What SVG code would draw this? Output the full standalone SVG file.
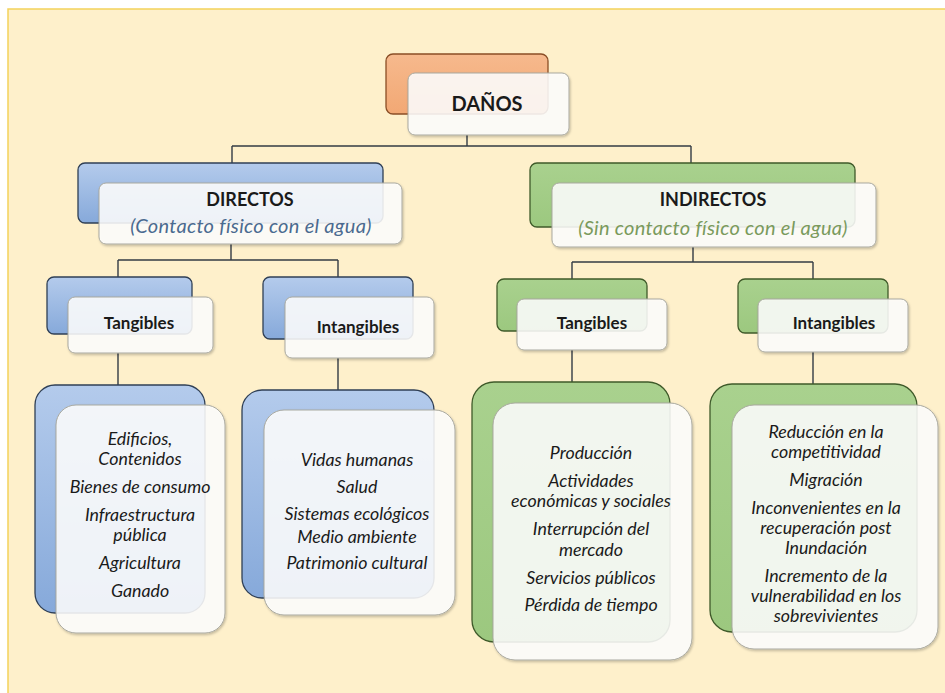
<svg xmlns="http://www.w3.org/2000/svg" width="945" height="693" viewBox="0 0 945 693">
<defs>
<linearGradient id="gBlue" x1="0" y1="0" x2="0" y2="1"><stop offset="0" stop-color="#B4CBEC"/><stop offset="1" stop-color="#86A9DA"/></linearGradient>
<linearGradient id="gGreen" x1="0" y1="0" x2="0" y2="1"><stop offset="0" stop-color="#A9D18E"/><stop offset="1" stop-color="#9CC87F"/></linearGradient>
<linearGradient id="gOrange" x1="0" y1="0" x2="0" y2="1"><stop offset="0" stop-color="#F6B98D"/><stop offset="1" stop-color="#F2A874"/></linearGradient>
<filter id="sh" x="-10%" y="-10%" width="130%" height="130%"><feDropShadow dx="1" dy="1.5" stdDeviation="1.2" flood-color="#000" flood-opacity="0.25"/></filter>
</defs>
<style>
.blue{fill:url(#gBlue);stroke:#2F3F55;stroke-width:1.3}
.green{fill:url(#gGreen);stroke:#3F5A2A;stroke-width:1.3}
.orange{fill:url(#gOrange);stroke:#8A4E26;stroke-width:1.3}
.front{fill:#FFFFFF;fill-opacity:0.86;stroke:#A9A9A0;stroke-width:1;filter:url(#sh)}
.t{font-family:Lato,"Liberation Sans",sans-serif;fill:#1A1A1A;text-anchor:middle}
.b{font-weight:bold}
.h1{font-size:20px}
.h2{font-size:18px}
.h3{font-size:17px}
.sub{font-size:20px;font-style:italic;letter-spacing:0.3px}
.li{font-size:17.8px;font-style:italic}
.con{fill:none;stroke:#333B44;stroke-width:1.4}
</style>
<rect x="8" y="9" width="940" height="690" fill="#FEF0CB" stroke="#F3D25B" stroke-width="1.5"/>

<g id="connectors">
<path class="con" d="M467 135V146M232 146H691M232 146V163M691 146V163"/>
<path class="con" d="M231 244V260M118 260H338M118 260V277M338 260V277"/>
<path class="con" d="M693 247V262M572 262H813M572 262V279M813 262V279"/>
<path class="con" d="M118 353V385M338 358V390M572 350V382M813 352V384"/>
</g>

<g id="danos">
<rect class="orange" x="386" y="54" width="162" height="60" rx="7"/>
<rect class="front" x="408" y="73" width="161" height="62" rx="7"/>
<text class="t b h1" x="487" y="111">DAÑOS</text>
</g>

<g id="directos">
<rect class="blue" x="78" y="163" width="305" height="60" rx="7"/>
<rect class="front" x="99" y="183" width="303" height="61" rx="7"/>
<text class="t b h2" x="250" y="206">DIRECTOS</text>
<text class="t sub" x="251" y="233" style="fill:#4A6A90">(Contacto físico con el agua)</text>
</g>

<g id="indirectos">
<rect class="green" x="530" y="163" width="325" height="64" rx="7"/>
<rect class="front" x="552" y="183" width="324" height="64" rx="7"/>
<text class="t b h2" x="713" y="206">INDIRECTOS</text>
<text class="t sub" x="713" y="235" style="fill:#7A9A5C">(Sin contacto físico con el agua)</text>
</g>

<g id="dir-tangibles">
<rect class="blue" x="47" y="277" width="145" height="57" rx="7"/>
<rect class="front" x="68" y="297" width="145" height="56" rx="7"/>
<text class="t b h3" x="139" y="329">Tangibles</text>
</g>

<g id="dir-intangibles">
<rect class="blue" x="263" y="277" width="150" height="62" rx="7"/>
<rect class="front" x="285" y="297" width="149" height="61" rx="7"/>
<text class="t b h3" x="358" y="333">Intangibles</text>
</g>

<g id="ind-tangibles">
<rect class="green" x="497" y="279" width="150" height="52" rx="7"/>
<rect class="front" x="517" y="299" width="150" height="51" rx="7"/>
<text class="t b h3" x="592" y="329">Tangibles</text>
</g>

<g id="ind-intangibles">
<rect class="green" x="738" y="279" width="150" height="54" rx="7"/>
<rect class="front" x="758" y="299" width="150" height="53" rx="7"/>
<text class="t b h3" x="834" y="329">Intangibles</text>
</g>

<g id="dir-tangibles-list">
<rect class="blue" x="35" y="385" width="170" height="228" rx="20"/>
<rect class="front" x="56" y="405" width="169" height="228" rx="20"/>
<text class="t li" x="140" y="445">Edificios,</text>
<text class="t li" x="140" y="465">Contenidos</text>
<text class="t li" x="140" y="493">Bienes de consumo</text>
<text class="t li" x="140" y="521">Infraestructura</text>
<text class="t li" x="140" y="541">pública</text>
<text class="t li" x="140" y="569">Agricultura</text>
<text class="t li" x="140" y="597">Ganado</text>
</g>

<g id="dir-intangibles-list">
<rect class="blue" x="242" y="390" width="192" height="208" rx="20"/>
<rect class="front" x="264" y="410" width="191" height="205" rx="20"/>
<text class="t li" x="357" y="466">Vidas humanas</text>
<text class="t li" x="357" y="493">Salud</text>
<text class="t li" x="357" y="520">Sistemas ecológicos</text>
<text class="t li" x="357" y="543">Medio ambiente</text>
<text class="t li" x="357" y="569">Patrimonio cultural</text>
</g>

<g id="ind-tangibles-list">
<rect class="green" x="472" y="382" width="198" height="260" rx="22"/>
<rect class="front" x="493" y="403" width="199" height="257" rx="22"/>
<text class="t li" x="591" y="459">Producción</text>
<text class="t li" x="591" y="487">Actividades</text>
<text class="t li" x="591" y="507">económicas y sociales</text>
<text class="t li" x="591" y="535">Interrupción del</text>
<text class="t li" x="591" y="556">mercado</text>
<text class="t li" x="591" y="584">Servicios públicos</text>
<text class="t li" x="591" y="611">Pérdida de tiempo</text>
</g>

<g id="ind-intangibles-list">
<rect class="green" x="710" y="384" width="207" height="248" rx="22"/>
<rect class="front" x="732" y="405" width="206" height="244" rx="22"/>
<text class="t li" x="826" y="438">Reducción en la</text>
<text class="t li" x="826" y="458">competitividad</text>
<text class="t li" x="826" y="486">Migración</text>
<text class="t li" x="826" y="514">Inconvenientes en la</text>
<text class="t li" x="826" y="534">recuperación post</text>
<text class="t li" x="826" y="554">Inundación</text>
<text class="t li" x="826" y="582">Incremento de la</text>
<text class="t li" x="826" y="602">vulnerabilidad en los</text>
<text class="t li" x="826" y="622">sobrevivientes</text>
</g>
</svg>
